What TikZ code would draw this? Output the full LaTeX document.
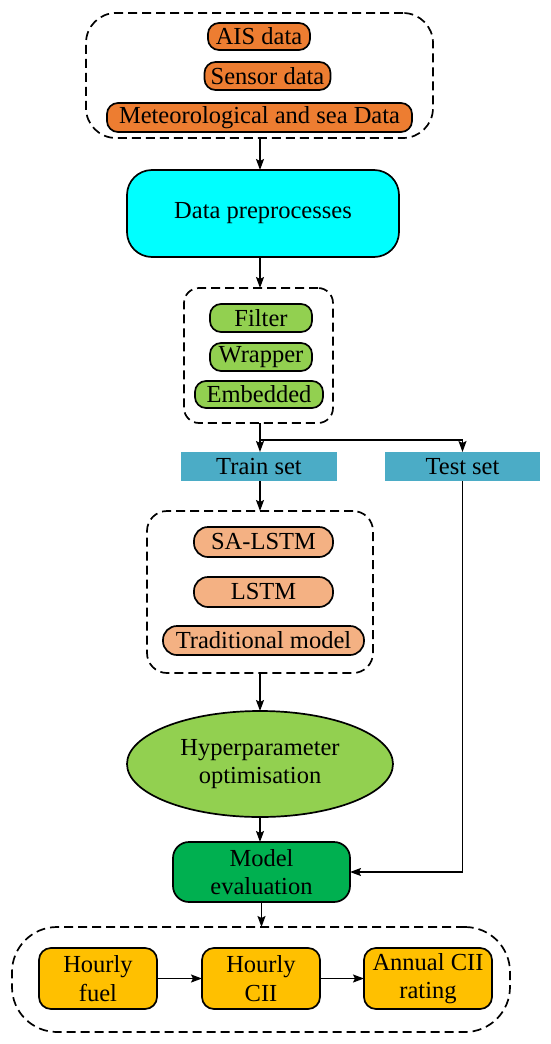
\documentclass[tikz,border=0pt]{standalone}
\usepackage{fontspec}
\setmainfont{Liberation Serif}
\usetikzlibrary{arrows.meta,shapes.geometric}
\definecolor{cOrange}{HTML}{ED7D31}
\definecolor{cCyan}{HTML}{00FFFF}
\definecolor{cLGreen}{HTML}{92D050}
\definecolor{cTeal}{HTML}{4BACC6}
\definecolor{cSalmon}{HTML}{F4B183}
\definecolor{cGreen}{HTML}{00B050}
\definecolor{cYellow}{HTML}{FFC000}
\tikzset{
  every node/.style={font=\fontsize{24.5}{28.5}\selectfont, inner sep=0pt, outer sep=0pt},
  grp/.style={draw, dash pattern=on 9pt off 5pt, line width=1.7pt, rectangle, fill=none},
  pill/.style={draw, line width=1.7pt, rectangle, rounded corners=11pt},
  setbox/.style={rectangle, fill=cTeal, minimum width=155pt, minimum height=29pt},
  ybox/.style={draw, line width=1.7pt, rectangle, rounded corners=12pt, fill=cYellow, minimum height=61pt, align=center},
  arr/.style={-{Stealth[length=11pt,width=8pt,inset=2pt]}, line width=1.6pt},
}
\begin{document}
\begin{tikzpicture}[x=1pt,y=-1pt]
\useasboundingbox (0,0) rectangle (550,1044);
% group 1
\node[grp, rounded corners=30pt, minimum width=347pt, minimum height=125pt] (g1) at (259.5,75.5) {};
\node[pill, fill=cOrange, minimum width=102pt, minimum height=27pt] (ais) at (259,36.5) {AIS data};
\node[pill, fill=cOrange, minimum width=126pt, minimum height=28pt] (sensor) at (267.5,76) {Sensor data};
\node[pill, fill=cOrange, minimum width=305pt, minimum height=29pt] (met) at (259.5,117.5) {Meteorological and sea Data};
% data preprocesses
\node[draw, line width=1.7pt, rectangle, rounded corners=25pt, fill=cCyan, minimum width=272pt, minimum height=87pt] (data) at (263,213.5) {Data preprocesses};
% group 2
\node[grp, rounded corners=15pt, minimum width=149pt, minimum height=135pt] (g2) at (258.5,355.5) {};
\node[pill, fill=cLGreen, minimum width=102pt, minimum height=28pt] (filter) at (261,318) {Filter};
\node[pill, fill=cLGreen, minimum width=102pt, minimum height=28pt] (wrapper) at (261,357) {Wrapper};
\node[pill, fill=cLGreen, minimum width=128pt, minimum height=27pt] (embedded) at (259,394.5) {Embedded};
% sets
\node[setbox, minimum width=156pt] (train) at (259,466.5) {Train set};
\node[setbox] (test) at (462.5,466.5) {Test set};
% group 3
\node[grp, rounded corners=20pt, minimum width=226pt, minimum height=162pt] (g3) at (260,592) {};
\node[pill, rounded corners=14pt, fill=cSalmon, minimum width=139pt, minimum height=30pt] (sa) at (263.5,542) {SA-LSTM};
\node[pill, rounded corners=14pt, fill=cSalmon, minimum width=139pt, minimum height=30pt] (lstm) at (263.5,592) {LSTM};
\node[pill, rounded corners=14pt, fill=cSalmon, minimum width=201pt, minimum height=29pt] (trad) at (263.5,640.5) {Traditional model};
% ellipse
\node[draw, line width=1.7pt, ellipse, fill=cLGreen, minimum width=266pt, minimum height=106pt, align=center] (hyper) at (260,764) {Hyperparameter\\optimisation};
% model evaluation
\node[draw, line width=1.7pt, rectangle, rounded corners=16pt, fill=cGreen, minimum width=177pt, minimum height=60pt, align=center] (model) at (261.5,872) {Model\\evaluation};
% group 4
\node[grp, rounded corners=45pt, minimum width=498pt, minimum height=105pt] (g4) at (261,979.5) {};
\node[ybox, minimum width=118pt] (fuel) at (98,978.5) {Hourly\\fuel};
\node[ybox, minimum width=118pt] (cii) at (261,978.5) {Hourly\\CII};
\node[ybox, minimum width=128pt] (annual) at (428,978.5) {Annual CII\\rating};
% connectors
\coordinate (b1) at (260,138);
\draw[arr] (b1) -- (b1 |- data.north);
\coordinate (b2) at (260,257);
\draw[arr] (b2) -- (b2 |- g2.north);
\coordinate (b3) at (260,423);
\coordinate (br) at (260,440);
\draw[arr] (b3) -- (b3 |- train.north);
\draw[arr] (br) -| (test.north);
\coordinate (b4) at (260,481);
\draw[arr] (b4) -- (b4 |- g3.north);
\coordinate (b5) at (260,673);
\draw[arr] (b5) -- (hyper.north);
\draw[arr] (hyper.south) -- (hyper.south |- model.north);
\draw[arr] (test.south) |- (model.east);
\draw[arr] (model.south) -- (model.south |- g4.north);
\draw[arr] (fuel.east) -- (cii.west);
\draw[arr] (cii.east) -- (annual.west);
\end{tikzpicture}
\end{document}
